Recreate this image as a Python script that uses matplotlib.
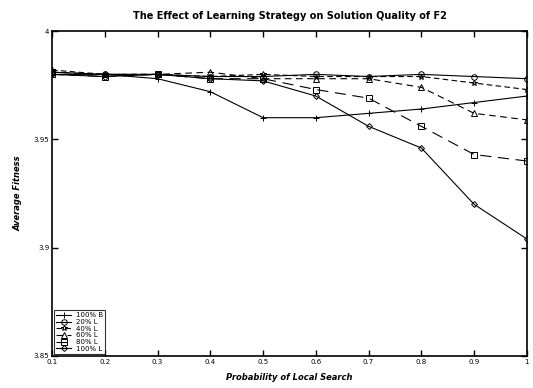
import matplotlib
matplotlib.use('Agg')
import matplotlib.pyplot as plt

prob = [0.1, 0.2, 0.3, 0.4, 0.5, 0.6, 0.7, 0.8, 0.9, 1.0]
b100 = [3.980, 3.980, 3.978, 3.972, 3.960, 3.960, 3.962, 3.964, 3.967, 3.970]
l20 = [3.981, 3.980, 3.980, 3.979, 3.979, 3.980, 3.979, 3.980, 3.979, 3.978]
l40 = [3.982, 3.980, 3.980, 3.979, 3.980, 3.979, 3.979, 3.979, 3.976, 3.973]
l60 = [3.981, 3.980, 3.980, 3.981, 3.978, 3.978, 3.978, 3.974, 3.962, 3.959]
l80 = [3.980, 3.979, 3.980, 3.978, 3.978, 3.973, 3.969, 3.956, 3.943, 3.940]
l100 = [3.980, 3.979, 3.980, 3.978, 3.977, 3.970, 3.956, 3.946, 3.920, 3.904]

fig = plt.figure(figsize=(5.33, 3.88), dpi=100)
ax = fig.add_axes([0.0976, 0.0825, 0.891, 0.8375])

kw = dict(color='black', lw=0.8, markersize=4, markerfacecolor='none', markeredgewidth=0.7)
ax.plot(prob, b100, marker='+', linestyle='-', label='100% B', **kw)
ax.plot(prob, l20, marker='o', linestyle='-', label='20% L', **kw)
ax.plot(prob, l40, marker='*', linestyle=(0, (5, 3)), label='40% L', **kw)
ax.plot(prob, l60, marker='^', linestyle=(0, (6, 4)), label='60% L', **kw)
ax.plot(prob, l80, marker='s', linestyle=(0, (10, 6)), label='80% L', **kw)
ax.plot(prob, l100, marker='D', linestyle='-', label='100% L', **dict(kw, markersize=3))

ax.set_xlim(0.1, 1.0)
ax.set_ylim(3.85, 4.0)
ax.set_xticks(prob)
ax.set_xticklabels(['0.1', '0.2', '0.3', '0.4', '0.5', '0.6', '0.7', '0.8', '0.9', '1'])
ax.set_yticks([3.85, 3.9, 3.95, 4.0])
ax.set_yticklabels(['3.85', '3.9', '3.95', '4'])
ax.tick_params(direction='in', labelsize=5, length=4, width=1, top=True, right=True, pad=2)
for s in ax.spines.values():
    s.set_linewidth(1.2)

ax.set_title('The Effect of Learning Strategy on Solution Quality of F2',
             fontsize=7, fontweight='bold', pad=9)
ax.set_xlabel('Probability of Local Search', fontsize=6, fontweight='bold', style='italic', labelpad=6)
ax.set_ylabel('Average Fitness', fontsize=6, fontweight='bold', style='italic', labelpad=8)

leg = ax.legend(loc='lower left', fontsize=5, frameon=True, fancybox=False,
                handlelength=2.2, labelspacing=0.1, borderpad=0.3, handletextpad=0.6,
                borderaxespad=0.3)
leg.get_frame().set_edgecolor('black')
leg.get_frame().set_linewidth(0.8)

plt.savefig('out.png', dpi=100)
